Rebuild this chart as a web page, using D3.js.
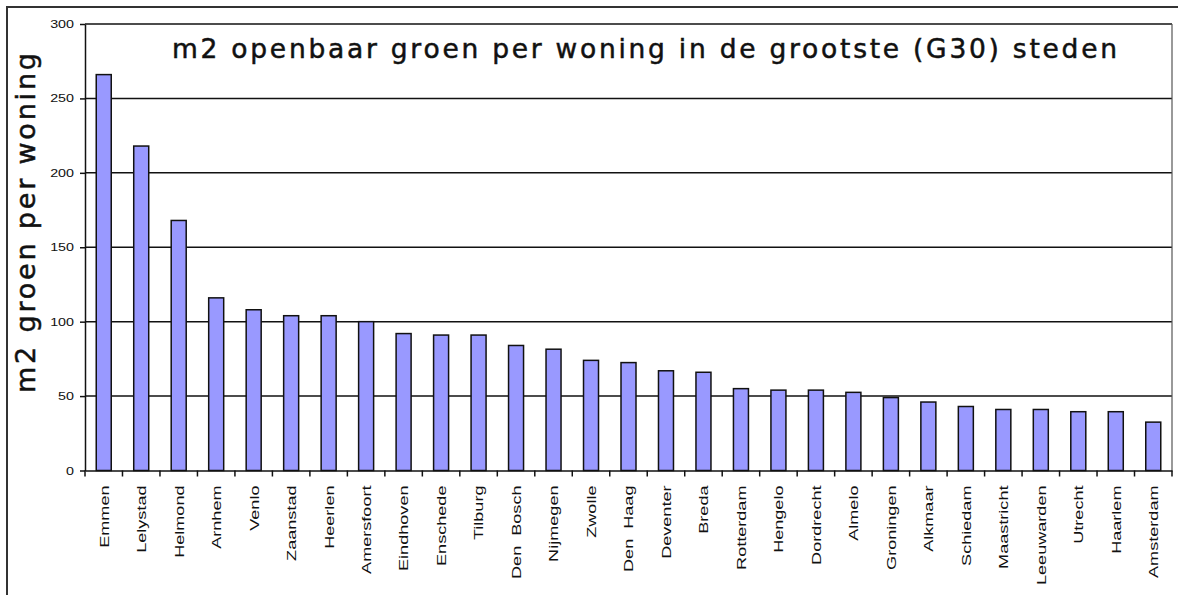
<!DOCTYPE html>
<html>
<head>
<meta charset="utf-8">
<script src="https://cdn.jsdelivr.net/npm/d3@7"></script>
<style>
  body { margin: 0; background: #fff; }
  svg { display: block; }
</style>
</head>
<body>
<svg id="chart" width="1178" height="595"></svg>
<script>
// G30 cities, sorted by public green area per dwelling (m2)
const cities = [
  "Emmen", "Lelystad", "Helmond", "Arnhem", "Venlo", "Zaanstad", "Heerlen",
  "Amersfoort", "Eindhoven", "Enschede", "Tilburg", "Den  Bosch", "Nijmegen",
  "Zwolle", "Den  Haag", "Deventer", "Breda", "Rotterdam", "Hengelo",
  "Dordrecht", "Almelo", "Groningen", "Alkmaar", "Schiedam", "Maastricht",
  "Leeuwarden", "Utrecht", "Haarlem", "Amsterdam"
];
const greenPerDwelling = [
  266, 218, 168, 116, 108, 104, 104,
  100, 92, 91, 91, 84, 81.5,
  74, 72.5, 67, 66, 55, 54,
  54, 52.5, 49, 46, 43, 41,
  41, 39.5, 39.5, 32.5
];
const yTicks = [0, 50, 100, 150, 200, 250, 300];
const chartTitle = "m2 openbaar groen per woning in de grootste (G30) steden";
const yTitle = "m2 groen per woning";

const W = 1178, H = 595;
const plot = { left: 85, right: 1172, top: 24, bottom: 470.5 };
const svg = d3.select("#chart");

const x = d3.scaleBand().domain(cities).range([plot.left, plot.right]).padding(0);
const y = d3.scaleLinear().domain([0, 300]).range([plot.bottom, plot.top]);

// outer frame: top and left edges
svg.append("path")
  .attr("d", `M7,${H} V7 H${W}`)
  .attr("fill", "none")
  .attr("stroke", "#333")
  .attr("stroke-width", 2);

// horizontal gridlines
svg.append("g")
  .selectAll("line")
  .data(yTicks.filter(t => t > 0))
  .join("line")
  .attr("x1", plot.left).attr("x2", plot.right)
  .attr("y1", d => y(d)).attr("y2", d => y(d))
  .attr("stroke", "#111")
  .attr("stroke-width", 1.5);

// right edge of the plot area
svg.append("line")
  .attr("x1", plot.right).attr("x2", plot.right)
  .attr("y1", plot.top).attr("y2", plot.bottom)
  .attr("stroke", "#555")
  .attr("stroke-width", 1.2);

// bars
const barW = 15;
svg.append("g")
  .selectAll("rect")
  .data(cities)
  .join("rect")
  .attr("x", d => x(d) + x.bandwidth() / 2 - barW / 2)
  .attr("y", (d, i) => y(greenPerDwelling[i]))
  .attr("width", barW)
  .attr("height", (d, i) => y(0) - y(greenPerDwelling[i]))
  .attr("fill", "#9999ff")
  .attr("stroke", "#111")
  .attr("stroke-width", 1.5);

// y axis
const yAxis = svg.append("g")
  .attr("transform", `translate(${plot.left},0)`)
  .call(d3.axisLeft(y).tickValues(yTicks).tickSize(5).tickSizeOuter(0).tickFormat(d3.format("d")));
yAxis.select(".domain").attr("stroke", "#111").attr("stroke-width", 1.5);
yAxis.selectAll(".tick line").attr("stroke", "#111").attr("stroke-width", 1.5);
yAxis.selectAll(".tick text")
  .attr("x", 0)
  .attr("transform", "translate(-11,0) scale(1.3,1)")
  .attr("font-family", "'Liberation Sans', Arial, sans-serif")
  .attr("font-size", 11)
  .attr("fill", "#111");

// x axis baseline with ticks between categories
const xAxis = svg.append("g")
  .attr("transform", `translate(0,${plot.bottom})`)
  .call(d3.axisBottom(x).tickSize(0).tickSizeOuter(0));
xAxis.select(".domain").attr("stroke", "#111").attr("stroke-width", 1.5);
xAxis.selectAll(".tick text")
  .attr("x", 0).attr("y", 0).attr("dy", "0.36em")
  .attr("text-anchor", "end")
  .attr("transform", "translate(0,15) rotate(-90) scale(1.34,1)")
  .attr("font-family", "'Liberation Sans', Arial, sans-serif")
  .attr("font-size", 13.5)
  .attr("fill", "#111")
  .style("white-space", "pre");

svg.append("g")
  .selectAll("line")
  .data(cities.map(d => x(d)).concat([plot.right]))
  .join("line")
  .attr("x1", d => d).attr("x2", d => d)
  .attr("y1", plot.bottom).attr("y2", plot.bottom + 6)
  .attr("stroke", "#111")
  .attr("stroke-width", 1.5);

// chart title inside the plot area
svg.append("text")
  .attr("x", 172).attr("y", 58)
  .attr("textLength", 945)
  .attr("lengthAdjust", "spacing")
  .attr("font-family", "'DejaVu Sans', Verdana, sans-serif")
  .attr("font-size", 26.5)
  .attr("fill", "#111")
  .attr("stroke", "#111")
  .attr("stroke-width", 0.5)
  .text(chartTitle);

// y axis title
svg.append("text")
  .attr("transform", "translate(35,393) rotate(-90)")
  .attr("textLength", 340)
  .attr("lengthAdjust", "spacing")
  .attr("font-family", "'DejaVu Sans', Verdana, sans-serif")
  .attr("font-size", 27)
  .attr("fill", "#111")
  .attr("stroke", "#111")
  .attr("stroke-width", 0.5)
  .text(yTitle);
</script>
</body>
</html>
